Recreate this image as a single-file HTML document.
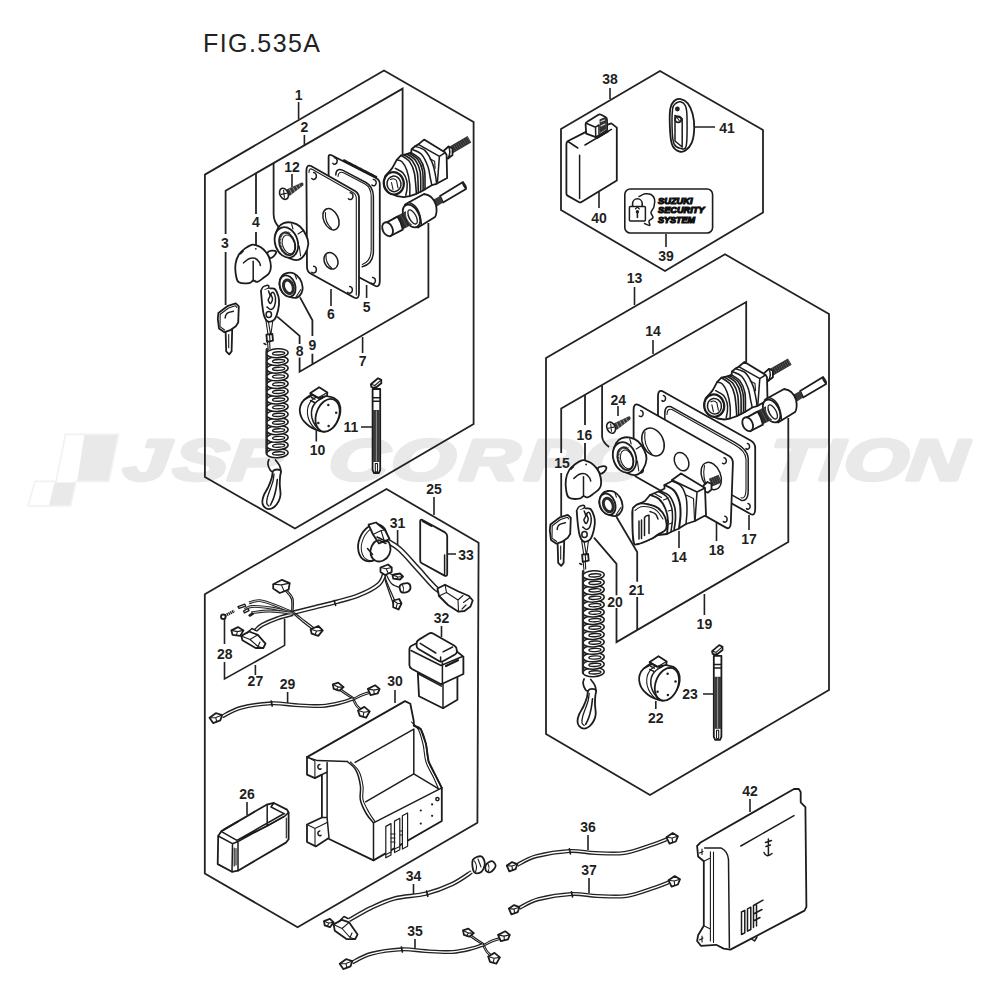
<!DOCTYPE html>
<html><head><meta charset="utf-8"><title>FIG.535A</title>
<style>
html,body{margin:0;padding:0;background:#fff;}
svg{display:block;}
text{font-family:"Liberation Sans",sans-serif;}
.l{font-weight:bold;font-size:14px;fill:#1f1f1f;text-anchor:middle;}
.b{fill:none;stroke:#222;stroke-width:1.8;stroke-linejoin:miter;}
.t{fill:none;stroke:#222;stroke-width:1.6;}
.p{fill:#fff;stroke:#1c1c1c;stroke-width:1.8;stroke-linejoin:round;stroke-linecap:round;}
.n{fill:none;stroke:#1c1c1c;stroke-width:1.5;stroke-linejoin:round;stroke-linecap:round;}
.h{fill:none;stroke:#1c1c1c;stroke-width:1.1;stroke-linejoin:round;stroke-linecap:round;}
.k{fill:#222;stroke:none;}
</style></head><body>
<svg width="1000" height="1000" viewBox="0 0 1000 1000">
<rect width="1000" height="1000" fill="#fff"/>
<!-- 00_watermark.svg -->
<g fill="#e9e9e9" stroke="#e9e9e9">
<path d="M84.4 434.4H118L108.4 481.2H77.2Z M54.4 482.6H75.4L70 505.8H49Z" stroke="none"/>
<path d="M65.5 434.4H118.5L108.8 481.4H76L70.5 506H28L35 481.4H56Z" fill="none" stroke="#f1f1f1" stroke-width="1.6" stroke-linejoin="round"/>
<g transform="translate(0 479.5) skewX(-5) scale(1.42 1)" font-size="58" font-weight="bold" font-style="italic" stroke-width="3.4" stroke-linejoin="round">
<text x="85.9 121.1 159.9" y="0">JSP</text>
<text x="230.6 274.4 322.9 368.8 409.8 453.8 492.9 540.5 576.6 593.5 638" y="0">CORPORATION</text>
</g>
</g>

<!-- 01_title.svg -->
<text x="203" y="52" font-size="25" fill="#222" textLength="117" lengthAdjust="spacing">FIG.535A</text>

<!-- 02_boxes.svg -->
<g class="b">
<!-- box 1 -->
<path d="M204.9 477V174.6L384 70.5L473.6 122V424L295 528.5Z"/>
<!-- bracket 2 -->
<path d="M225.6 234V190.8L402.6 88.6V154"/>
<path d="M225.6 252V305"/>
<path d="M256 174V214M256 232V248"/>
<path d="M273.6 163V214q0 8 6 14"/>
<!-- bracket 7 -->
<path d="M428.4 223V297L299.6 371.8V357.4M299.6 344V335.8L277.2 316.6M312.4 364V353.8M312.4 336V320.2L300 297.4"/>
<!-- lower-left box -->
<path d="M204.8 873.5V594.2L386.5 489L478.6 542.8L477.4 822.8L297.6 927.2Z"/>
<!-- top right hex -->
<path d="M561 129L660 71L763 130V212.5L665 271L561 210Z"/>
<!-- right box -->
<path d="M546 734V358L725 254.3L829 314V690L650 795Z"/>
<!-- bracket 14 -->
<path d="M561.2 453V408.5L746.2 302V362.5"/>
<path d="M561.2 473V516"/>
<path d="M585 395V425M585 443V461"/>
<path d="M602.1 385.6V436q0 6 7 11"/>
<!-- bracket 19 -->
<path d="M788.3 418V542L616.5 642.1V608M616.5 595.3V563.8L594 537.7M637.2 630.4V597.1M637.2 581.8V552.1L616.5 517"/>
</g>

<!-- 03_labels.svg -->
<g class="t">
<path d="M298.6 102V119M304.4 135V145M292 174V187M331 289V306M366.6 285V298M362.6 337V353M316.3 430.5V441.5M361 427H373"/>
<path d="M434 497V515M397.6 530V548M447 554H456M441.5 626V637M255.4 665V675M287.6 692V703M395 690V703M247 802V815M413.5 884V895M415 939V950M588 835V850M589 878V893M750 799V812"/>
<path d="M224.5 619V644M224.5 662V679L284.6 645.4V619"/>
<path d="M610 88V99M694 127H715M599 192V208M666 234V247M634.5 287V305M653 340V354M618 406V416M749 515V530M716.5 523V541M679 531V548M704.4 594V615M655.8 701V709M703 694H715"/>
</g>
<g class="l">
<text x="298.6" y="100">1</text><text x="304.4" y="132">2</text><text x="292" y="171.5">12</text>
<text x="256" y="226.5">4</text><text x="225" y="247.5">3</text><text x="331" y="319">6</text>
<text x="366.6" y="311.5">5</text><text x="312.4" y="349.5">9</text><text x="299.6" y="355.5">8</text>
<text x="362.6" y="366">7</text><text x="317.5" y="454.5">10</text><text x="351" y="432">11</text>
<text x="434" y="494">25</text><text x="397.6" y="527.5">31</text><text x="466" y="559.5">33</text>
<text x="441.5" y="622.5">32</text><text x="224.8" y="659">28</text><text x="255.4" y="686">27</text>
<text x="287.6" y="689">29</text><text x="395" y="686">30</text><text x="247" y="798.5">26</text>
<text x="413.5" y="881">34</text><text x="415" y="936">35</text><text x="588" y="832">36</text>
<text x="589" y="875">37</text><text x="750" y="796">42</text>
<text x="610" y="84">38</text><text x="727" y="132.5">41</text><text x="599" y="223">40</text>
<text x="666" y="261">39</text><text x="634.5" y="283">13</text><text x="653" y="336">14</text>
<text x="618.3" y="404.5">24</text><text x="584.4" y="439.5">16</text><text x="562" y="468">15</text>
<text x="749" y="544">17</text><text x="716.5" y="555">18</text><text x="679" y="562">14</text>
<text x="615" y="606.5">20</text><text x="636.5" y="595">21</text><text x="704.4" y="629">19</text>
<text x="655.8" y="723">22</text><text x="690" y="699">23</text>
</g>

<!-- 10_box1.svg -->
<g><path class="n" d="M451 150L469.4 139.3" style="stroke:#2e2e2e;stroke-width:7.4;stroke-linecap:butt"/><path class="n" d="M451 150L469.4 139.3" style="stroke:#777;stroke-width:6;stroke-linecap:butt;stroke-dasharray:0.45 1.8"/><path class="p" d="M443.5 151 L448.5 146.5 L452.5 148.5 L452.5 155 L448 158.5 L443.5 157Z" /><path class="n" d="M448.5 146.5Q451.5 152 448 158.5" /><path class="p" d="M383.8 183.3 L385.2 176.1 L389.5 171.3 L392.4 167.9 L396.7 159.8 L401 155.4 L406.8 154 L411.1 152.6 L411.6 149.2 L415 146.3 L418.3 144.4 L424.1 139.6 L445.2 152.6 L446.6 155 L447.1 178 L436.6 183.8 L431.8 185.2 L427.9 187.6 L423.1 190.5 L416.4 193.8 L409.7 196.2 L403.9 197.2 L397.2 196.2 L388.6 192.4 L384.7 187.6Z" /><path class="n" d="M418.3 144.4L439.4 156.4L445.2 152.6M439.4 156.4L437.5 181.8" /><path class="h" d="M429.8 158.8L434.6 161.2L435.1 168.4" /><path class="n" d="M411.6 149.2C413.2 150 418.5 151.1 421.2 154C423.9 156.9 426.4 162.5 427.9 166.5C429.4 170.5 429.6 174.9 430.3 178C431 181.1 431.6 184 431.8 185.2" /><path class="n" d="M415 146.3C416.7 147 422.1 147.9 425 150.6C427.9 153.3 430.4 158.3 432.2 162.6C434 166.8 434.9 172.6 435.6 176.1C436.3 179.6 436.4 182.5 436.6 183.8" /><path class="n" d="M401 155.4C402.4 156.4 407.4 158.6 409.6 161.6C411.8 164.6 413.3 167.8 414.4 173.2C415.5 178.6 416.1 190.4 416.4 193.8" style="stroke-width:1.6"/><path class="n" d="M403.9 154.8C405.3 155.8 410.3 158 412.5 161C414.7 164 416.3 167.3 417.3 172.6C418.3 177.9 418.1 189.5 418.3 192.9" style="stroke-width:1.6"/><path class="n" d="M406.8 154C408.2 155 413.2 157.2 415.4 160.2C417.6 163.2 419.3 166.5 420.2 171.8C421.1 177.1 420.6 188.6 420.7 191.9" style="stroke-width:1.6"/><path class="n" d="M409.2 153.3C410.6 154.3 415.6 156.5 417.8 159.5C420 162.5 421.7 165.9 422.6 171.1C423.5 176.3 423 187.3 423.1 190.5" style="stroke-width:1.6"/><path class="n" d="M411.1 152.6C412.5 153.6 417.5 155.8 419.7 158.8C421.9 161.8 423.6 165.3 424.5 170.4C425.4 175.5 424.9 186.3 425 189.5" style="stroke-width:1.6"/><path class="n" d="M396.7 159.8C397.6 160.1 400.3 159.9 402 161.7C403.7 163.4 405.5 166.6 406.8 170.3C408.1 174 409.2 179.5 409.7 183.8C410.2 188.1 409.7 194.1 409.7 196.2" /><path class="n" d="M395.3 168.4C396.6 169.2 401.1 170.9 403 173C404.9 175.1 406.1 178.2 406.8 180.9C407.5 183.6 407.2 186.6 407 189C406.8 191.4 406 194.2 405.8 195.3" /><ellipse class="p" cx="393.8" cy="183.3" rx="10" ry="11.2" transform="rotate(-10 393.8 183.3)" style="stroke-width:2.2"/><ellipse class="n" cx="394" cy="183.9" rx="7" ry="7.8" transform="rotate(-10 394 183.9)" /><path class="h" d="M390.5 179.5Q394 177.5 396.5 180.5L398 188M391.5 182.5L393 189.5" /></g>
<g><path class="p" d="M440 196 L463 182 L466 189 L443 202.5Z" /><ellipse class="k" cx="464.5" cy="185.5" rx="1.6" ry="3.8" transform="rotate(-30 464.5 185.5)" /><path class="k" d="M433.5 199.5 L440 196 L443 202.5 L437 206.5Z" style="fill:#3a3a3a"/><path class="p" d="M405 204.5L424 194Q433 195 436 205Q437.5 213 435 217L418 227.5Z" /><ellipse class="p" cx="411.5" cy="216" rx="7.5" ry="12.3" transform="rotate(-28 411.5 216)" /><path class="n" d="M408.5 202.6Q420 205 421.5 225.3" /><path class="k" d="M393 218.1 L405.6 211.3 L412.6 224.3 L399.8 230.9Z" style="fill:#2c2c2c"/><path class="h" d="M400.5 214.4L407.2 227M403.8 212.6L410.4 225.2" style="stroke:#777;stroke-width:.5"/><ellipse class="n" cx="411.2" cy="217.6" rx="3.4" ry="7.6" transform="rotate(-28 411.2 217.6)" style="stroke-width:1.5;stroke:#fff"/><ellipse class="n" cx="412.6" cy="216.9" rx="3.4" ry="7.8" transform="rotate(-28 412.6 216.9)" style="stroke-width:1.3"/><path class="p" d="M386.3 222.6L397.5 216.6Q401 222 402.8 229.6L390 236.3Z" /><ellipse class="p" cx="387.6" cy="229.2" rx="4.9" ry="7.3" transform="rotate(-25 387.6 229.2)" /></g>
<g><path class="p" d="M328.6 157Q328.6 153.8 331.6 155.2L376 178Q379.8 180 379.8 184V281Q379.8 287.5 375.5 286L332 263Q328.6 261 328.6 257Z" /><path class="n" d="M344 160.5L376 177" style="stroke-width:2.6;stroke-dasharray:1 1"/><path class="n" d="M335.8 175Q336 167.5 343 170.4L366 182.5Q373 186.5 373.4 196V252Q373 264 362.2 266.8" /><path class="h" d="M338 176.5Q338.5 170.5 344 173L365 184Q371 187.5 371.2 196.5V250Q371 261.5 362.2 264.4" /><path class="n" d="M334.4 157.8a2.6 3.2 0 1 1 -1.5 5.6" /><path class="n" d="M373.4 179.4a2.6 3.2 0 1 1 -1.5 5.6" /><path class="n" d="M372.6 277.4a2.6 3.2 0 1 1 -1.5 5.6" /><path class="p" d="M306.4 171Q306.4 164 311 166L355 191Q359 193.5 359 198V293Q359 300 354 297.5L310.5 273.5Q307 271.5 307 267Z" /><path class="h" d="M309 172.5Q309 167.5 312.5 169.5L353 192.5Q356.3 194.5 356.3 198.5V295" /><ellipse class="n" cx="331" cy="219.2" rx="7.3" ry="11.3" transform="rotate(-25 331 219.2)" /><path class="h" d="M325.5 212.5Q324.5 222 331.5 228.5" /><ellipse class="n" cx="331" cy="260.8" rx="6.6" ry="8.6" transform="rotate(-25 331 260.8)" /><path class="h" d="M326 255Q325.5 263 331.5 268" /><path class="n" d="M313.6 172.6a2.8 3.4 0 1 1 -1.8 6" /><path class="n" d="M350.2 192.8a2.8 3.4 0 1 1 -1.8 6" /><path class="n" d="M313.6 266.2a2.8 3.4 0 1 1 -1.8 6" /><path class="n" d="M349.6 286.4a2.8 3.4 0 1 1 -1.8 6" /></g>
<g><path class="k" d="M286.5 189.6L301.8 182.4Q304.2 182.6 303.2 185.6L289.5 196Z" style="fill:#383838"/><path class="h" d="M289.5 189L292 194M292.8 187.4L295.2 191.8M296 186L298 189.6M299 184.6L300.6 187.4" style="stroke:#ccc;stroke-width:.6"/><ellipse class="p" cx="284" cy="193.8" rx="4.1" ry="5.8" transform="rotate(-25 284 193.8)" style="stroke-width:1.6"/><path class="h" d="M281.3 194.4L286.7 193.2M283.6 190.2L284.4 197.4" /></g>
<g><path class="p" d="M283.6 223.2C285.9 222.3 289.3 222 292 222.6C294.7 223.2 297.7 224.4 300 226.5C302.3 228.6 304.6 232.1 306 235C307.4 237.9 308.5 240.8 308.3 244C308.1 247.2 306.6 251.4 305 254C303.4 256.6 301.5 258.9 299 259.6C296.5 260.4 293.5 260.1 290 258.5C286.5 256.9 280.5 253.4 278 250C275.5 246.6 275 241.7 275 238C275 234.3 276.6 230.5 278 228C279.4 225.5 281.3 224.1 283.6 223.2Z" /><ellipse class="p" cx="286.4" cy="242.4" rx="11.3" ry="15.6" transform="rotate(-18 286.4 242.4)" style="stroke-width:1.8"/><ellipse class="p" cx="287.2" cy="243.8" rx="7.6" ry="11.6" transform="rotate(-18 287.2 243.8)" /><ellipse class="n" cx="288.6" cy="244.4" rx="6" ry="9.6" transform="rotate(-18 288.6 244.4)" style="stroke-width:1"/><path d="M290 233.5A6.9 10.7 -18 0 0 287 255" fill="none" stroke="#333" stroke-width="2.2" stroke-dasharray="0.9 0.6"/><path class="h" d="M291.5 223.7L293 229M299.2 246L300.6 256M303.5 230.5L298 234" /></g>
<g><path class="p" d="M267.5 252.8C267.9 251.7 270.3 250.9 271.7 250.7C273.1 250.5 275.3 250.9 275.9 251.5C276.5 252.1 276.2 253 275.5 254.1C274.8 255.2 272.8 257.2 271.7 257.8C270.6 258.4 269.9 258.2 269.2 257.4C268.5 256.6 267.1 253.9 267.5 252.8Z" /><path class="p" d="M255.7 245.2C254.1 244.8 253.3 244.2 251.5 244.8C249.7 245.4 246.9 247 244.8 248.6C242.7 250.2 240.4 252 238.9 254.5C237.4 257 236.1 260.2 235.6 263.7C235.1 267.2 235.4 272.4 236 275.5C236.6 278.6 236.7 280.9 238.9 282.2C241.1 283.5 246.6 283.4 249 283.1C251.4 282.8 251.8 280.7 253.2 280.5C254.6 280.3 255.7 282.2 257.4 281.8C259.1 281.4 261.3 279.5 263.3 278C265.3 276.5 267.9 274.9 269.2 273C270.5 271.1 270.9 268.8 270.9 266.3C270.9 263.8 270 260.2 269.2 257.8C268.4 255.4 267.2 253.8 265.8 252C264.4 250.2 262.5 248.4 260.8 247.3C259.1 246.2 257.2 245.6 255.7 245.2Z" /><path class="n" d="M243.5 262.9C244.4 262.2 247.1 259.5 249 258.7C250.9 257.9 253.2 257.8 254.9 258.3C256.6 258.9 258.2 260.8 259.1 262C260 263.2 260.2 264.8 260.4 265.4" /><path class="n" d="M253.2 261.2V280.5" /><path class="n" d="M240.6 253.6L243.1 251.1" /><circle class="k" cx="255.8" cy="248.8" r="0.9"/></g>
<g><path class="p" d="M225.6 331 L226.2 351.4 L229.2 354.4 L231.6 351.4 L232.2 329Z" /><path class="h" d="M228.7 334.6V347.8" /><path class="p" d="M218.4 313 L228 305.8 L235.8 303.4 L238.8 306.4 L238.2 322.6 L235.8 326.2 L229.8 330.4 L224.4 332.2 L219 328.6 L217.8 319Z" /><path class="h" d="M220.2 314.2 L228.6 308 L235.4 305.8 L236.8 307.4" /><path class="h" d="M220.2 314.2L220 326.6L224.6 330" /><path class="n" d="M225.2 318Q225.4 313.4 229 312.4L233.4 311.2" /></g>
<g><path class="p" d="M288 272.8C290 272.4 292 272.5 294 273.5C296 274.5 298.6 276.8 300 279C301.4 281.2 302.4 284.7 302.6 287C302.9 289.3 302.4 291.2 301.5 293C300.6 294.8 298.9 296.9 297 297.6C295.1 298.3 292.3 297.8 290 297C287.7 296.2 284.8 295 283 293C281.2 291 279.7 287.8 279.5 285C279.3 282.2 280.6 278 282 276C283.4 274 286 273.2 288 272.8Z" /><ellipse class="p" cx="287.6" cy="286" rx="7.6" ry="11" transform="rotate(-20 287.6 286)" /><ellipse class="p" cx="288.4" cy="286.8" rx="4.6" ry="7" transform="rotate(-20 288.4 286.8)" style="stroke-width:3;stroke:#2a2a2a"/><path class="h" d="M295 274.5L296.5 279M300.8 289.5L296 297" /></g>
<g><path class="n" d="M261 290.8C261.3 290.2 262.1 287.9 263 287C263.9 286.1 265.4 285.6 266.4 285.4C267.4 285.2 268.5 285.5 268.8 286C269.1 286.5 268.7 287.9 268 288.6C267.3 289.4 265.1 289.3 264.5 290.5C263.9 291.7 264.4 293.8 264.6 296C264.9 298.2 265.8 302.7 266 304" /><path class="p" d="M270 288.4C270.8 288.5 273.4 287.7 274.8 289C276.2 290.3 277.7 293.6 278.4 296.2C279.1 298.8 279.3 301.4 279 304.6C278.7 307.8 277.5 312.8 276.6 315.4C275.7 318 275.1 319.2 273.6 320.2C272.1 321.2 269.2 322.2 267.6 321.4C266 320.6 264.9 318.2 264 315.4C263.1 312.6 262.7 308.7 262.2 304.6C261.7 300.5 261.2 293.1 261 290.8" /><path class="n" d="M268.5 291C268.8 291.8 270.1 294.5 270 296C269.9 297.5 268.1 298.8 268.2 300C268.3 301.2 269.8 303.7 270.5 303.5C271.2 303.3 272.4 300.6 272.5 299C272.6 297.4 270.8 295.1 271 294C271.2 292.9 272.8 291.8 273.5 292.5C274.2 293.2 275.3 295.8 275.5 298C275.7 300.2 275.2 304.1 274.5 306C273.8 307.9 272.2 309.3 271 309.5C269.8 309.7 267.7 307.4 267 307" /><ellipse class="n" cx="268.8" cy="314.6" rx="2.7" ry="3" transform="rotate(0 268.8 314.6)" /><path class="h" d="M266 320.8L268 334.5M272.8 320.5L271 334M268.4 321.5L270.5 334" /><path class="p" d="M266.4 334.6 L272.4 334 L273 340.6 L267 341.8Z" /><path class="h" d="M269.5 334.3L270 341.2" /><path class="h" d="M267.5 341.8L268.2 349.5M269.6 341.5L270 349" /><path class="n" d="M264 343.5L266 344.5" /></g>
<g><path class="n" d="M266.9 349.4V454" style="stroke-width:2.6;stroke:#2a2a2a"/><ellipse class="p" cx="277.4" cy="453.2" rx="10.7" ry="4.5" transform="rotate(-3 277.4 453.2)" style="stroke-width:1.5"/><ellipse class="p" cx="278.6" cy="453.4" rx="6.1" ry="1.6" transform="rotate(-3 278.6 453.4)" style="stroke-width:1.4"/><ellipse class="p" cx="277.4" cy="445.5" rx="10.7" ry="4.5" transform="rotate(-3 277.4 445.5)" style="stroke-width:1.5"/><ellipse class="p" cx="278.6" cy="445.7" rx="6.1" ry="1.6" transform="rotate(-3 278.6 445.7)" style="stroke-width:1.4"/><ellipse class="p" cx="277.4" cy="437.8" rx="10.7" ry="4.5" transform="rotate(-3 277.4 437.8)" style="stroke-width:1.5"/><ellipse class="p" cx="278.6" cy="438" rx="6.1" ry="1.6" transform="rotate(-3 278.6 438)" style="stroke-width:1.4"/><ellipse class="p" cx="277.4" cy="430.1" rx="10.7" ry="4.5" transform="rotate(-3 277.4 430.1)" style="stroke-width:1.5"/><ellipse class="p" cx="278.6" cy="430.3" rx="6.1" ry="1.6" transform="rotate(-3 278.6 430.3)" style="stroke-width:1.4"/><ellipse class="p" cx="277.4" cy="422.4" rx="10.7" ry="4.5" transform="rotate(-3 277.4 422.4)" style="stroke-width:1.5"/><ellipse class="p" cx="278.6" cy="422.6" rx="6.1" ry="1.6" transform="rotate(-3 278.6 422.6)" style="stroke-width:1.4"/><ellipse class="p" cx="277.4" cy="414.7" rx="10.7" ry="4.5" transform="rotate(-3 277.4 414.7)" style="stroke-width:1.5"/><ellipse class="p" cx="278.6" cy="414.9" rx="6.1" ry="1.6" transform="rotate(-3 278.6 414.9)" style="stroke-width:1.4"/><ellipse class="p" cx="277.4" cy="407" rx="10.7" ry="4.5" transform="rotate(-3 277.4 407)" style="stroke-width:1.5"/><ellipse class="p" cx="278.6" cy="407.2" rx="6.1" ry="1.6" transform="rotate(-3 278.6 407.2)" style="stroke-width:1.4"/><ellipse class="p" cx="277.4" cy="399.4" rx="10.7" ry="4.5" transform="rotate(-3 277.4 399.4)" style="stroke-width:1.5"/><ellipse class="p" cx="278.6" cy="399.6" rx="6.1" ry="1.6" transform="rotate(-3 278.6 399.6)" style="stroke-width:1.4"/><ellipse class="p" cx="277.4" cy="391.7" rx="10.7" ry="4.5" transform="rotate(-3 277.4 391.7)" style="stroke-width:1.5"/><ellipse class="p" cx="278.6" cy="391.9" rx="6.1" ry="1.6" transform="rotate(-3 278.6 391.9)" style="stroke-width:1.4"/><ellipse class="p" cx="277.4" cy="384" rx="10.7" ry="4.5" transform="rotate(-3 277.4 384)" style="stroke-width:1.5"/><ellipse class="p" cx="278.6" cy="384.2" rx="6.1" ry="1.6" transform="rotate(-3 278.6 384.2)" style="stroke-width:1.4"/><ellipse class="p" cx="277.4" cy="376.3" rx="10.7" ry="4.5" transform="rotate(-3 277.4 376.3)" style="stroke-width:1.5"/><ellipse class="p" cx="278.6" cy="376.5" rx="6.1" ry="1.6" transform="rotate(-3 278.6 376.5)" style="stroke-width:1.4"/><ellipse class="p" cx="277.4" cy="368.6" rx="10.7" ry="4.5" transform="rotate(-3 277.4 368.6)" style="stroke-width:1.5"/><ellipse class="p" cx="278.6" cy="368.8" rx="6.1" ry="1.6" transform="rotate(-3 278.6 368.8)" style="stroke-width:1.4"/><ellipse class="p" cx="277.4" cy="360.9" rx="10.7" ry="4.5" transform="rotate(-3 277.4 360.9)" style="stroke-width:1.5"/><ellipse class="p" cx="278.6" cy="361.1" rx="6.1" ry="1.6" transform="rotate(-3 278.6 361.1)" style="stroke-width:1.4"/><ellipse class="p" cx="277.4" cy="353.2" rx="10.7" ry="4.5" transform="rotate(-3 277.4 353.2)" style="stroke-width:1.5"/><ellipse class="p" cx="278.6" cy="353.4" rx="6.1" ry="1.6" transform="rotate(-3 278.6 353.4)" style="stroke-width:1.4"/><path class="n" d="M266.5 351.4V453" style="stroke-width:1.8;stroke:#2a2a2a"/></g>
<g><path class="n" d="M268.9 459.5C268.7 460.2 267.7 462.2 267.9 464C268.1 465.8 269.4 469 270.3 470.3C271.2 471.6 272.6 471.7 273 472" style="stroke-width:1.7"/><path class="n" d="M275.5 460C276.1 460.9 278.5 463.6 279.4 465.4C280.3 467.2 280.8 469.5 280.8 471C280.8 472.5 279.8 473.9 279.6 474.5" style="stroke-width:1.7"/><path class="p" d="M273.1 471C272.2 472.4 272.5 475.3 271.7 478C270.9 480.7 269.5 484.3 268.2 487.1C266.9 489.9 265 492.4 264 494.8C263 497.2 262.3 499.8 262.3 501.8C262.3 503.8 262.9 505.5 264 506.7C265.1 507.9 267.1 509.2 268.9 509.2C270.6 509.2 272.9 508 274.5 506.7C276.1 505.4 277.7 503.1 278.7 501.1C279.7 499.1 280.3 497.5 280.5 494.8C280.7 492.1 279.9 488 279.8 485C279.7 482 279.9 478.9 280.1 476.6C280.3 474.3 281.3 472.2 280.8 471C280.3 469.8 278.3 469.5 277 469.5C275.7 469.5 274 469.6 273.1 471Z" style="stroke-width:1.8"/><path class="n" d="M274 474C273.8 475.2 273.6 478.5 273 481C272.4 483.5 271.2 486.3 270.3 489C269.4 491.7 268.1 494.6 267.5 497C266.9 499.4 266.6 502 266.8 503.5C267.1 505 268.6 505.6 269 506" style="stroke-width:1.3"/><path class="n" d="M277.3 479.5C277.1 481.1 276.6 486 276 489C275.4 492 274.7 494.8 273.8 497.5C272.9 500.2 271.1 503.8 270.5 505" style="stroke-width:1.6"/></g>
<g><path class="p" d="M304.3 399.7C301.7 401.9 301.1 404 300.4 406C299.7 408 299.7 409.9 299.9 411.8C300.1 413.7 300.8 415.9 301.5 417.5C302.2 419.1 303.1 420.3 304.3 421.7C305.6 423.1 307.2 424.7 309 426C310.8 427.3 313 428.5 315.3 429.4C317.6 430.3 320.4 431.7 323 431.6C325.6 431.5 328.7 430.6 331 429C333.3 427.4 335.4 424.8 337 422C338.6 419.2 340.1 415.2 340.4 412C340.7 408.8 340.1 405.3 339 403C337.9 400.7 336.2 399.2 334 398C331.8 396.8 329 396.8 326 396C323 395.2 319.6 392.4 316 393C312.4 393.6 306.9 397.5 304.3 399.7Z" /><path class="n" d="M304.3 399.7L316 393.6" /><ellipse class="p" cx="327.6" cy="415.3" rx="11.3" ry="17" transform="rotate(20 327.6 415.3)" /><path class="n" d="M322.5 398Q309 404 312 418Q314 426 320.5 430.8" /><path class="h" d="M317 396.5Q305 403 308 417Q310 424.5 316 429.5" /><circle class="k" cx="328.3" cy="404.9" r="1.25"/><circle class="k" cx="336.2" cy="412.7" r="1.25"/><circle class="k" cx="328.6" cy="426" r="1.25"/><circle class="k" cx="318.3" cy="422.9" r="1.25"/><path class="p" d="M310.4 393 L319.2 387.3 L327.4 392.5 L326.9 395.9 L318 398 L310.4 393.7Z" /><path class="h" d="M310.4 393L318.5 397.5L327.4 392.5" /><path class="n" d="M311.5 397.5L315 399.2M319 399.5L324.5 396.8M310.5 400.5L314.5 402.5" /></g>
<g><path class="p" d="M372.6 389 L372.6 470 L374 473 L378.8 473 L380.2 470 L380.2 389Z" /><path class="k" d="M373 410 L373 462 L379.8 462 L379.8 410Z" style="fill:#3a3a3a"/><path class="h" d="M376.4 411V461" style="stroke:#bbb;stroke-width:.7"/><path class="h" d="M375.3 463.5V471.3Q376.4 472.6 377.5 471.3V463.5Z" /><path class="n" d="M372.6 397.8H380.2M372.6 401.2H380.2" /><path class="p" d="M370.9 384.3 L378 378.3 L381.3 379.9 L381.3 383.2 L375.3 388 L371.4 387Z" /><path class="h" d="M370.9 384.3L374.8 385.5L381.3 379.9M374.8 385.5L375.3 388" /></g>

<!-- 11_box13.svg -->
<g><path class="p" d="M658 396Q658 389.5 662.5 391.2L751 440.8Q755.2 443.5 755.2 448V509Q755.2 516.5 750.5 514L661.5 464Q658 462 658 458Z" /><path class="n" d="M664.8 414Q664.5 405 671.2 406.8L735.2 442.6Q747.5 449.5 748.2 458V491Q748 502 741 500.2L668 459Q664.8 457 664.8 453Z" /><path class="h" d="M667 414.5Q667 408 672 409.5L734.5 444.8Q745.5 451 746 459V490Q745.8 499 741 497.8" /><path class="n" d="M663.4 395.6a2.2 2.8 0 1 1 -1.4 5" /><path class="n" d="M747.4 443.6a2.2 2.8 0 1 1 -1.4 5" /><path class="n" d="M748 503.6a2.2 2.8 0 1 1 -1.4 5" /><path class="p" d="M633.6 410Q633.6 403 638.4 404.8L729.5 456.2Q732.9 458.5 732.9 463L730.8 523Q730.4 530 726 527.6L636.5 477Q633.6 475 633.6 470Z" /><ellipse class="n" cx="653" cy="442" rx="10.4" ry="14.6" transform="rotate(-25 653 442)" /><path class="h" d="M645 432Q643 445 652 454.5" /><ellipse class="n" cx="681.6" cy="461.6" rx="6.8" ry="9.6" transform="rotate(-25 681.6 461.6)" /><ellipse class="n" cx="711.2" cy="476" rx="9.4" ry="14.2" transform="rotate(-22 711.2 476)" /><path class="h" d="M704.5 465.5Q702 478 708 489" /><path class="n" d="M640.8 410.6a2.4 3 0 1 1 -1.5 5.4" /><path class="n" d="M724 457.8a2.4 3 0 1 1 -1.5 5.4" /><path class="n" d="M724.8 516.2a2.4 3 0 1 1 -1.5 5.4" /><path class="n" d="M641 467a2.4 3 0 1 1 -1.5 5.4" /></g>
<g transform="translate(320.4 222.3)"><path class="n" d="M451 150L469.4 139.3" style="stroke:#2e2e2e;stroke-width:7.4;stroke-linecap:butt"/><path class="n" d="M451 150L469.4 139.3" style="stroke:#777;stroke-width:6;stroke-linecap:butt;stroke-dasharray:0.45 1.8"/><path class="p" d="M443.5 151 L448.5 146.5 L452.5 148.5 L452.5 155 L448 158.5 L443.5 157Z" /><path class="n" d="M448.5 146.5Q451.5 152 448 158.5" /><path class="p" d="M383.8 183.3 L385.2 176.1 L389.5 171.3 L392.4 167.9 L396.7 159.8 L401 155.4 L406.8 154 L411.1 152.6 L411.6 149.2 L415 146.3 L418.3 144.4 L424.1 139.6 L445.2 152.6 L446.6 155 L447.1 178 L436.6 183.8 L431.8 185.2 L427.9 187.6 L423.1 190.5 L416.4 193.8 L409.7 196.2 L403.9 197.2 L397.2 196.2 L388.6 192.4 L384.7 187.6Z" /><path class="n" d="M418.3 144.4L439.4 156.4L445.2 152.6M439.4 156.4L437.5 181.8" /><path class="h" d="M429.8 158.8L434.6 161.2L435.1 168.4" /><path class="n" d="M411.6 149.2C413.2 150 418.5 151.1 421.2 154C423.9 156.9 426.4 162.5 427.9 166.5C429.4 170.5 429.6 174.9 430.3 178C431 181.1 431.6 184 431.8 185.2" /><path class="n" d="M415 146.3C416.7 147 422.1 147.9 425 150.6C427.9 153.3 430.4 158.3 432.2 162.6C434 166.8 434.9 172.6 435.6 176.1C436.3 179.6 436.4 182.5 436.6 183.8" /><path class="n" d="M401 155.4C402.4 156.4 407.4 158.6 409.6 161.6C411.8 164.6 413.3 167.8 414.4 173.2C415.5 178.6 416.1 190.4 416.4 193.8" style="stroke-width:1.6"/><path class="n" d="M403.9 154.8C405.3 155.8 410.3 158 412.5 161C414.7 164 416.3 167.3 417.3 172.6C418.3 177.9 418.1 189.5 418.3 192.9" style="stroke-width:1.6"/><path class="n" d="M406.8 154C408.2 155 413.2 157.2 415.4 160.2C417.6 163.2 419.3 166.5 420.2 171.8C421.1 177.1 420.6 188.6 420.7 191.9" style="stroke-width:1.6"/><path class="n" d="M409.2 153.3C410.6 154.3 415.6 156.5 417.8 159.5C420 162.5 421.7 165.9 422.6 171.1C423.5 176.3 423 187.3 423.1 190.5" style="stroke-width:1.6"/><path class="n" d="M411.1 152.6C412.5 153.6 417.5 155.8 419.7 158.8C421.9 161.8 423.6 165.3 424.5 170.4C425.4 175.5 424.9 186.3 425 189.5" style="stroke-width:1.6"/><path class="n" d="M396.7 159.8C397.6 160.1 400.3 159.9 402 161.7C403.7 163.4 405.5 166.6 406.8 170.3C408.1 174 409.2 179.5 409.7 183.8C410.2 188.1 409.7 194.1 409.7 196.2" /><path class="n" d="M395.3 168.4C396.6 169.2 401.1 170.9 403 173C404.9 175.1 406.1 178.2 406.8 180.9C407.5 183.6 407.2 186.6 407 189C406.8 191.4 406 194.2 405.8 195.3" /><ellipse class="p" cx="393.8" cy="183.3" rx="10" ry="11.2" transform="rotate(-10 393.8 183.3)" style="stroke-width:2.2"/><ellipse class="n" cx="394" cy="183.9" rx="7" ry="7.8" transform="rotate(-10 394 183.9)" /><path class="h" d="M390.5 179.5Q394 177.5 396.5 180.5L398 188M391.5 182.5L393 189.5" /></g>
<g transform="translate(360.1 195)"><path class="p" d="M440 196 L463 182 L466 189 L443 202.5Z" /><ellipse class="k" cx="464.5" cy="185.5" rx="1.6" ry="3.8" transform="rotate(-30 464.5 185.5)" /><path class="k" d="M433.5 199.5 L440 196 L443 202.5 L437 206.5Z" style="fill:#3a3a3a"/><path class="p" d="M405 204.5L424 194Q433 195 436 205Q437.5 213 435 217L418 227.5Z" /><ellipse class="p" cx="411.5" cy="216" rx="7.5" ry="12.3" transform="rotate(-28 411.5 216)" /><path class="n" d="M408.5 202.6Q420 205 421.5 225.3" /><path class="k" d="M393 218.1 L405.6 211.3 L412.6 224.3 L399.8 230.9Z" style="fill:#2c2c2c"/><path class="h" d="M400.5 214.4L407.2 227M403.8 212.6L410.4 225.2" style="stroke:#777;stroke-width:.5"/><ellipse class="n" cx="411.2" cy="217.6" rx="3.4" ry="7.6" transform="rotate(-28 411.2 217.6)" style="stroke-width:1.5;stroke:#fff"/><ellipse class="n" cx="412.6" cy="216.9" rx="3.4" ry="7.8" transform="rotate(-28 412.6 216.9)" style="stroke-width:1.3"/><path class="p" d="M386.3 222.6L397.5 216.6Q401 222 402.8 229.6L390 236.3Z" /><ellipse class="p" cx="387.6" cy="229.2" rx="4.9" ry="7.3" transform="rotate(-25 387.6 229.2)" /></g>
<g><path class="n" d="M710.5 482.6L720.2 478.6" style="stroke:#2e2e2e;stroke-width:8.5;stroke-linecap:butt"/><path class="n" d="M710.5 482.6L720.2 478.6" style="stroke:#777;stroke-width:7.5;stroke-linecap:butt;stroke-dasharray:0.45 1.8"/><path class="p" d="M703.5 485.5 L707.5 482 L711.5 484 L711.5 489.5 L708 492.6 L703.5 491Z" /><path class="p" d="M632.5 512 L634 507 L640 503.5 L645 501 L650 495 L658.5 491.5 L660 491 L664.5 488.5 L664.5 485 L672 481 L672 480 L681 473.5 L705 488 L706 515 L695 521 L686 524 L678 529 L673 531 L667 534 L658 535 L652 538.5 L638 544 L633.5 541Z" /><path class="n" d="M672 480L697 492L705 488M697 492L695 521" /><path class="h" d="M686 495L693.5 498.5L694.5 520" /><path class="n" d="M672 481C673.5 481.8 678.7 483.3 681 486C683.3 488.7 685 493 686 497C687 501 687 505.5 687 510C687 514.5 686.2 521.7 686 524" /><path class="n" d="M664.5 485C666.1 485.9 671.5 487.7 674 490.5C676.5 493.3 678.4 497.9 679.5 502C680.6 506.1 680.6 510.6 680.5 515C680.4 519.4 679.2 526.2 679 528.5" style="stroke-width:2"/><path class="n" d="M660 491C661.5 491.8 666.6 492.9 669 495.5C671.4 498.1 673.4 502.7 674.5 506.5C675.6 510.3 675.6 514.5 675.5 518.5C675.4 522.5 674.2 528.5 674 530.5" style="stroke-width:1.7"/><path class="n" d="M658.5 491.5C659.8 492.3 664.3 493.9 666.5 496.5C668.7 499.1 670.5 503.2 671.5 507C672.5 510.8 672.6 514.9 672.5 519C672.4 523.1 671.2 529.4 671 531.5" /><path class="n" d="M650 495C651.5 495.7 656.4 496.7 659 499C661.6 501.3 664 505.3 665.5 509C667 512.7 667.8 516.8 668 521C668.2 525.2 667.2 531.8 667 534" style="stroke-width:1.8"/><path class="h" d="M654 493.3L661.5 497.5M663.5 500L668.5 498M668 511L672.3 510M669 524L672.5 523" /><path class="p" d="M632.5 512C632.6 506.3 632.8 508.4 634 507C635.2 505.6 637.5 503.9 640 503.5C642.5 503.1 646 503.8 649 504.5C652 505.2 655.3 505.9 658 508C660.7 510.1 663.7 513.5 665 517C666.3 520.5 667.2 526.1 666 529C664.8 531.9 660.3 532.9 658 534.5C655.7 536.1 655.3 536.9 652 538.5C648.7 540.1 641.1 543.6 638 544C634.9 544.4 634.4 546.3 633.5 541C632.6 535.7 632.4 517.7 632.5 512Z" style="stroke-width:1.9"/><path class="h" d="M635 510.5C636 509.9 638.5 507.3 641 506.8C643.5 506.3 647.3 506.6 650 507.3C652.7 508 654.8 508.9 657 510.8C659.2 512.8 662 517.6 663 519" /><path class="n" d="M639 521V539M641.5 520V538.5M644.5 517.5V535.5M649 515.2V533.5M644.5 517.5Q646.5 514.8 649 515.2" /><path class="n" d="M650 511.5C650.9 511.9 654.2 512.8 655.5 514C656.8 515.2 657.6 518.2 658 519" /></g>
<g transform="translate(327.1 233.9)"><path class="k" d="M286.5 189.6L301.8 182.4Q304.2 182.6 303.2 185.6L289.5 196Z" style="fill:#383838"/><path class="h" d="M289.5 189L292 194M292.8 187.4L295.2 191.8M296 186L298 189.6M299 184.6L300.6 187.4" style="stroke:#ccc;stroke-width:.6"/><ellipse class="p" cx="284" cy="193.8" rx="4.1" ry="5.8" transform="rotate(-25 284 193.8)" style="stroke-width:1.6"/><path class="h" d="M281.3 194.4L286.7 193.2M283.6 190.2L284.4 197.4" /></g>
<g transform="translate(338.2 215)"><path class="p" d="M283.6 223.2C285.9 222.3 289.3 222 292 222.6C294.7 223.2 297.7 224.4 300 226.5C302.3 228.6 304.6 232.1 306 235C307.4 237.9 308.5 240.8 308.3 244C308.1 247.2 306.6 251.4 305 254C303.4 256.6 301.5 258.9 299 259.6C296.5 260.4 293.5 260.1 290 258.5C286.5 256.9 280.5 253.4 278 250C275.5 246.6 275 241.7 275 238C275 234.3 276.6 230.5 278 228C279.4 225.5 281.3 224.1 283.6 223.2Z" /><ellipse class="p" cx="286.4" cy="242.4" rx="11.3" ry="15.6" transform="rotate(-18 286.4 242.4)" style="stroke-width:1.8"/><ellipse class="p" cx="287.2" cy="243.8" rx="7.6" ry="11.6" transform="rotate(-18 287.2 243.8)" /><ellipse class="n" cx="288.6" cy="244.4" rx="6" ry="9.6" transform="rotate(-18 288.6 244.4)" style="stroke-width:1"/><path d="M290 233.5A6.9 10.7 -18 0 0 287 255" fill="none" stroke="#333" stroke-width="2.2" stroke-dasharray="0.9 0.6"/><path class="h" d="M291.5 223.7L293 229M299.2 246L300.6 256M303.5 230.5L298 234" /></g>
<g transform="translate(330.3 215.6)"><path class="p" d="M267.5 252.8C267.9 251.7 270.3 250.9 271.7 250.7C273.1 250.5 275.3 250.9 275.9 251.5C276.5 252.1 276.2 253 275.5 254.1C274.8 255.2 272.8 257.2 271.7 257.8C270.6 258.4 269.9 258.2 269.2 257.4C268.5 256.6 267.1 253.9 267.5 252.8Z" /><path class="p" d="M255.7 245.2C254.1 244.8 253.3 244.2 251.5 244.8C249.7 245.4 246.9 247 244.8 248.6C242.7 250.2 240.4 252 238.9 254.5C237.4 257 236.1 260.2 235.6 263.7C235.1 267.2 235.4 272.4 236 275.5C236.6 278.6 236.7 280.9 238.9 282.2C241.1 283.5 246.6 283.4 249 283.1C251.4 282.8 251.8 280.7 253.2 280.5C254.6 280.3 255.7 282.2 257.4 281.8C259.1 281.4 261.3 279.5 263.3 278C265.3 276.5 267.9 274.9 269.2 273C270.5 271.1 270.9 268.8 270.9 266.3C270.9 263.8 270 260.2 269.2 257.8C268.4 255.4 267.2 253.8 265.8 252C264.4 250.2 262.5 248.4 260.8 247.3C259.1 246.2 257.2 245.6 255.7 245.2Z" /><path class="n" d="M243.5 262.9C244.4 262.2 247.1 259.5 249 258.7C250.9 257.9 253.2 257.8 254.9 258.3C256.6 258.9 258.2 260.8 259.1 262C260 263.2 260.2 264.8 260.4 265.4" /><path class="n" d="M253.2 261.2V280.5" /><path class="n" d="M240.6 253.6L243.1 251.1" /><circle class="k" cx="255.8" cy="248.8" r="0.9"/></g>
<g transform="translate(332 211.5)"><path class="p" d="M225.6 331 L226.2 351.4 L229.2 354.4 L231.6 351.4 L232.2 329Z" /><path class="h" d="M228.7 334.6V347.8" /><path class="p" d="M218.4 313 L228 305.8 L235.8 303.4 L238.8 306.4 L238.2 322.6 L235.8 326.2 L229.8 330.4 L224.4 332.2 L219 328.6 L217.8 319Z" /><path class="h" d="M220.2 314.2 L228.6 308 L235.4 305.8 L236.8 307.4" /><path class="h" d="M220.2 314.2L220 326.6L224.6 330" /><path class="n" d="M225.2 318Q225.4 313.4 229 312.4L233.4 311.2" /></g>
<g transform="translate(319.9 218.2)"><path class="p" d="M288 272.8C290 272.4 292 272.5 294 273.5C296 274.5 298.6 276.8 300 279C301.4 281.2 302.4 284.7 302.6 287C302.9 289.3 302.4 291.2 301.5 293C300.6 294.8 298.9 296.9 297 297.6C295.1 298.3 292.3 297.8 290 297C287.7 296.2 284.8 295 283 293C281.2 291 279.7 287.8 279.5 285C279.3 282.2 280.6 278 282 276C283.4 274 286 273.2 288 272.8Z" /><ellipse class="p" cx="287.6" cy="286" rx="7.6" ry="11" transform="rotate(-20 287.6 286)" /><ellipse class="p" cx="288.4" cy="286.8" rx="4.6" ry="7" transform="rotate(-20 288.4 286.8)" style="stroke-width:3;stroke:#2a2a2a"/><path class="h" d="M295 274.5L296.5 279M300.8 289.5L296 297" /></g>
<g transform="translate(315.7 220)"><path class="n" d="M261 290.8C261.3 290.2 262.1 287.9 263 287C263.9 286.1 265.4 285.6 266.4 285.4C267.4 285.2 268.5 285.5 268.8 286C269.1 286.5 268.7 287.9 268 288.6C267.3 289.4 265.1 289.3 264.5 290.5C263.9 291.7 264.4 293.8 264.6 296C264.9 298.2 265.8 302.7 266 304" /><path class="p" d="M270 288.4C270.8 288.5 273.4 287.7 274.8 289C276.2 290.3 277.7 293.6 278.4 296.2C279.1 298.8 279.3 301.4 279 304.6C278.7 307.8 277.5 312.8 276.6 315.4C275.7 318 275.1 319.2 273.6 320.2C272.1 321.2 269.2 322.2 267.6 321.4C266 320.6 264.9 318.2 264 315.4C263.1 312.6 262.7 308.7 262.2 304.6C261.7 300.5 261.2 293.1 261 290.8" /><path class="n" d="M268.5 291C268.8 291.8 270.1 294.5 270 296C269.9 297.5 268.1 298.8 268.2 300C268.3 301.2 269.8 303.7 270.5 303.5C271.2 303.3 272.4 300.6 272.5 299C272.6 297.4 270.8 295.1 271 294C271.2 292.9 272.8 291.8 273.5 292.5C274.2 293.2 275.3 295.8 275.5 298C275.7 300.2 275.2 304.1 274.5 306C273.8 307.9 272.2 309.3 271 309.5C269.8 309.7 267.7 307.4 267 307" /><ellipse class="n" cx="268.8" cy="314.6" rx="2.7" ry="3" transform="rotate(0 268.8 314.6)" /><path class="h" d="M266 320.8L268 334.5M272.8 320.5L271 334M268.4 321.5L270.5 334" /><path class="p" d="M266.4 334.6 L272.4 334 L273 340.6 L267 341.8Z" /><path class="h" d="M269.5 334.3L270 341.2" /><path class="h" d="M267.5 341.8L268.2 349.5M269.6 341.5L270 349" /><path class="n" d="M264 343.5L266 344.5" /></g>
<g><path class="n" d="M583.2 571.4V673" style="stroke-width:2.6;stroke:#2a2a2a"/><ellipse class="p" cx="593.6" cy="672.2" rx="10.6" ry="4.5" transform="rotate(-3 593.6 672.2)" style="stroke-width:1.5"/><ellipse class="p" cx="594.9" cy="672.4" rx="6" ry="1.6" transform="rotate(-3 594.9 672.4)" style="stroke-width:1.4"/><ellipse class="p" cx="593.6" cy="664.7" rx="10.6" ry="4.5" transform="rotate(-3 593.6 664.7)" style="stroke-width:1.5"/><ellipse class="p" cx="594.9" cy="664.9" rx="6" ry="1.6" transform="rotate(-3 594.9 664.9)" style="stroke-width:1.4"/><ellipse class="p" cx="593.6" cy="657.3" rx="10.6" ry="4.5" transform="rotate(-3 593.6 657.3)" style="stroke-width:1.5"/><ellipse class="p" cx="594.9" cy="657.5" rx="6" ry="1.6" transform="rotate(-3 594.9 657.5)" style="stroke-width:1.4"/><ellipse class="p" cx="593.6" cy="649.8" rx="10.6" ry="4.5" transform="rotate(-3 593.6 649.8)" style="stroke-width:1.5"/><ellipse class="p" cx="594.9" cy="650" rx="6" ry="1.6" transform="rotate(-3 594.9 650)" style="stroke-width:1.4"/><ellipse class="p" cx="593.6" cy="642.4" rx="10.6" ry="4.5" transform="rotate(-3 593.6 642.4)" style="stroke-width:1.5"/><ellipse class="p" cx="594.9" cy="642.6" rx="6" ry="1.6" transform="rotate(-3 594.9 642.6)" style="stroke-width:1.4"/><ellipse class="p" cx="593.6" cy="634.9" rx="10.6" ry="4.5" transform="rotate(-3 593.6 634.9)" style="stroke-width:1.5"/><ellipse class="p" cx="594.9" cy="635.1" rx="6" ry="1.6" transform="rotate(-3 594.9 635.1)" style="stroke-width:1.4"/><ellipse class="p" cx="593.6" cy="627.4" rx="10.6" ry="4.5" transform="rotate(-3 593.6 627.4)" style="stroke-width:1.5"/><ellipse class="p" cx="594.9" cy="627.6" rx="6" ry="1.6" transform="rotate(-3 594.9 627.6)" style="stroke-width:1.4"/><ellipse class="p" cx="593.6" cy="620" rx="10.6" ry="4.5" transform="rotate(-3 593.6 620)" style="stroke-width:1.5"/><ellipse class="p" cx="594.9" cy="620.2" rx="6" ry="1.6" transform="rotate(-3 594.9 620.2)" style="stroke-width:1.4"/><ellipse class="p" cx="593.6" cy="612.5" rx="10.6" ry="4.5" transform="rotate(-3 593.6 612.5)" style="stroke-width:1.5"/><ellipse class="p" cx="594.9" cy="612.7" rx="6" ry="1.6" transform="rotate(-3 594.9 612.7)" style="stroke-width:1.4"/><ellipse class="p" cx="593.6" cy="605" rx="10.6" ry="4.5" transform="rotate(-3 593.6 605)" style="stroke-width:1.5"/><ellipse class="p" cx="594.9" cy="605.2" rx="6" ry="1.6" transform="rotate(-3 594.9 605.2)" style="stroke-width:1.4"/><ellipse class="p" cx="593.6" cy="597.6" rx="10.6" ry="4.5" transform="rotate(-3 593.6 597.6)" style="stroke-width:1.5"/><ellipse class="p" cx="594.9" cy="597.8" rx="6" ry="1.6" transform="rotate(-3 594.9 597.8)" style="stroke-width:1.4"/><ellipse class="p" cx="593.6" cy="590.1" rx="10.6" ry="4.5" transform="rotate(-3 593.6 590.1)" style="stroke-width:1.5"/><ellipse class="p" cx="594.9" cy="590.3" rx="6" ry="1.6" transform="rotate(-3 594.9 590.3)" style="stroke-width:1.4"/><ellipse class="p" cx="593.6" cy="582.7" rx="10.6" ry="4.5" transform="rotate(-3 593.6 582.7)" style="stroke-width:1.5"/><ellipse class="p" cx="594.9" cy="582.9" rx="6" ry="1.6" transform="rotate(-3 594.9 582.9)" style="stroke-width:1.4"/><ellipse class="p" cx="593.6" cy="575.2" rx="10.6" ry="4.5" transform="rotate(-3 593.6 575.2)" style="stroke-width:1.5"/><ellipse class="p" cx="594.9" cy="575.4" rx="6" ry="1.6" transform="rotate(-3 594.9 575.4)" style="stroke-width:1.4"/><path class="n" d="M582.8 573.4V672" style="stroke-width:1.8;stroke:#2a2a2a"/></g>
<g transform="translate(315.2 219.4)"><path class="n" d="M268.9 459.5C268.7 460.2 267.7 462.2 267.9 464C268.1 465.8 269.4 469 270.3 470.3C271.2 471.6 272.6 471.7 273 472" style="stroke-width:1.7"/><path class="n" d="M275.5 460C276.1 460.9 278.5 463.6 279.4 465.4C280.3 467.2 280.8 469.5 280.8 471C280.8 472.5 279.8 473.9 279.6 474.5" style="stroke-width:1.7"/><path class="p" d="M273.1 471C272.2 472.4 272.5 475.3 271.7 478C270.9 480.7 269.5 484.3 268.2 487.1C266.9 489.9 265 492.4 264 494.8C263 497.2 262.3 499.8 262.3 501.8C262.3 503.8 262.9 505.5 264 506.7C265.1 507.9 267.1 509.2 268.9 509.2C270.6 509.2 272.9 508 274.5 506.7C276.1 505.4 277.7 503.1 278.7 501.1C279.7 499.1 280.3 497.5 280.5 494.8C280.7 492.1 279.9 488 279.8 485C279.7 482 279.9 478.9 280.1 476.6C280.3 474.3 281.3 472.2 280.8 471C280.3 469.8 278.3 469.5 277 469.5C275.7 469.5 274 469.6 273.1 471Z" style="stroke-width:1.8"/><path class="n" d="M274 474C273.8 475.2 273.6 478.5 273 481C272.4 483.5 271.2 486.3 270.3 489C269.4 491.7 268.1 494.6 267.5 497C266.9 499.4 266.6 502 266.8 503.5C267.1 505 268.6 505.6 269 506" style="stroke-width:1.3"/><path class="n" d="M277.3 479.5C277.1 481.1 276.6 486 276 489C275.4 492 274.7 494.8 273.8 497.5C272.9 500.2 271.1 503.8 270.5 505" style="stroke-width:1.6"/></g>
<g transform="translate(339.3 268.9)"><path class="p" d="M304.3 399.7C301.7 401.9 301.1 404 300.4 406C299.7 408 299.7 409.9 299.9 411.8C300.1 413.7 300.8 415.9 301.5 417.5C302.2 419.1 303.1 420.3 304.3 421.7C305.6 423.1 307.2 424.7 309 426C310.8 427.3 313 428.5 315.3 429.4C317.6 430.3 320.4 431.7 323 431.6C325.6 431.5 328.7 430.6 331 429C333.3 427.4 335.4 424.8 337 422C338.6 419.2 340.1 415.2 340.4 412C340.7 408.8 340.1 405.3 339 403C337.9 400.7 336.2 399.2 334 398C331.8 396.8 329 396.8 326 396C323 395.2 319.6 392.4 316 393C312.4 393.6 306.9 397.5 304.3 399.7Z" /><path class="n" d="M304.3 399.7L316 393.6" /><ellipse class="p" cx="327.6" cy="415.3" rx="11.3" ry="17" transform="rotate(20 327.6 415.3)" /><path class="n" d="M322.5 398Q309 404 312 418Q314 426 320.5 430.8" /><path class="h" d="M317 396.5Q305 403 308 417Q310 424.5 316 429.5" /><circle class="k" cx="328.3" cy="404.9" r="1.25"/><circle class="k" cx="336.2" cy="412.7" r="1.25"/><circle class="k" cx="328.6" cy="426" r="1.25"/><circle class="k" cx="318.3" cy="422.9" r="1.25"/><path class="p" d="M310.4 393 L319.2 387.3 L327.4 392.5 L326.9 395.9 L318 398 L310.4 393.7Z" /><path class="h" d="M310.4 393L318.5 397.5L327.4 392.5" /><path class="n" d="M311.5 397.5L315 399.2M319 399.5L324.5 396.8M310.5 400.5L314.5 402.5" /></g>
<g transform="translate(341.2 266.8)"><path class="p" d="M372.6 389 L372.6 470 L374 473 L378.8 473 L380.2 470 L380.2 389Z" /><path class="k" d="M373 410 L373 462 L379.8 462 L379.8 410Z" style="fill:#3a3a3a"/><path class="h" d="M376.4 411V461" style="stroke:#bbb;stroke-width:.7"/><path class="h" d="M375.3 463.5V471.3Q376.4 472.6 377.5 471.3V463.5Z" /><path class="n" d="M372.6 397.8H380.2M372.6 401.2H380.2" /><path class="p" d="M370.9 384.3 L378 378.3 L381.3 379.9 L381.3 383.2 L375.3 388 L371.4 387Z" /><path class="h" d="M370.9 384.3L374.8 385.5L381.3 379.9M374.8 385.5L375.3 388" /></g>

<!-- 12_rest.svg -->
<g><path d="M386.5 540.5C388.8 542 394.8 544.8 400 549.5C405.2 554.2 412 562.5 418 569C424 575.5 431.5 584.5 436 588.5C440.5 592.5 443.5 592.2 445 593" fill="none" stroke="#222" stroke-width="5.6" stroke-linecap="butt"/><path d="M386.5 540.5C388.8 542 394.8 544.8 400 549.5C405.2 554.2 412 562.5 418 569C424 575.5 431.5 584.5 436 588.5C440.5 592.5 443.5 592.2 445 593" fill="none" stroke="#fff" stroke-width="2.6" stroke-linecap="butt"/><ellipse class="p" cx="372.6" cy="542.7" rx="13.6" ry="19.3" transform="rotate(22 372.6 542.7)" /><ellipse class="n" cx="374.2" cy="543.6" rx="12" ry="17.6" transform="rotate(22 374.2 543.6)" style="stroke-width:1"/><path class="p" d="M370.5 543L377 536L391 547L388 558L376 561.5Z" style="stroke:none"/><ellipse class="p" cx="380.5" cy="550.2" rx="9.7" ry="11.6" transform="rotate(25 380.5 550.2)" /><path class="n" d="M367.5 548.5L372.5 554.5M381 538.5L375 534" /><path class="p" d="M368.5 524.7 L376 522.5 L385 530 L389.5 539 L379 543.5 L373 534.5Z" /><path class="h" d="M373 534.5L381 530.5L385 530M381 530.5L384 540" /><path class="n" d="M377 537L386.5 541.5M378.5 540L386 543.5" /><path class="p" d="M437.5 588.5 L445 584.7 L458.5 591.5 L469 596 L472.7 600.5 L470.5 606.5 L464.5 611 L458.5 611.7 L448 605 L439 596Z" /><path class="h" d="M445 584.7L446.5 592.5L439 596M446.5 592.5L458 600L458.5 611.7M458 600L463 595.5M463.5 602.5L469.5 598M462 609L466 605" /></g>
<g><path class="p" d="M420.2 521.2Q420.2 519.2 422 519.8L445 532.4Q447.2 533.8 447.2 536V574Q447.2 576.5 444.5 575.6L421.5 563Q420.2 562.2 420.2 560.5Z" /><path class="n" d="M444.6 555V574.5" /><path class="n" d="M422.5 521L431.5 526" style="stroke-width:2;stroke-dasharray:.8 .8"/></g>
<g><path class="n" d="M384.5 572C384.8 573.3 384.9 576.7 386 580C387.1 583.3 389.5 588.5 391 592C392.5 595.5 394.3 599.5 395 601" style="stroke-width:1.2"/><path class="n" d="M385.5 573C386.6 574.8 389.2 581.5 392 584C394.8 586.5 400.3 587.3 402 588" style="stroke-width:1.2"/><path class="n" d="M386 571C387 571.6 390 574.1 392 574.5C394 574.9 397 573.7 398 573.5" style="stroke-width:1.2"/><path class="n" d="M383 573C383.7 575.2 385.3 581 387 586C388.7 591 392 600.2 393 603" style="stroke-width:1.2"/><path d="M293 612.8C296.7 611.9 307.7 609.1 315 607.3C322.3 605.5 329.7 603.8 337 601.8C344.3 599.8 352 598.1 359 595.2C366 592.3 374.6 587.9 378.8 584.2C383.1 580.5 383.6 575 384.5 573.2" fill="none" stroke="#222" stroke-width="4.6" stroke-linecap="butt"/><path d="M293 612.8C296.7 611.9 307.7 609.1 315 607.3C322.3 605.5 329.7 603.8 337 601.8C344.3 599.8 352 598.1 359 595.2C366 592.3 374.6 587.9 378.8 584.2C383.1 580.5 383.6 575 384.5 573.2" fill="none" stroke="#fff" stroke-width="1.8" stroke-linecap="butt"/><path class="n" d="M334.2 600.5L335.6 605.4" style="stroke-width:1.6"/><path d="M293 613.9C290.4 614.6 282.7 616.5 277.6 618.3C272.5 620.1 265.9 622.9 262.2 624.9C258.5 626.9 256.7 629.5 255.6 630.4" fill="none" stroke="#222" stroke-width="4.2" stroke-linecap="butt"/><path d="M293 613.9C290.4 614.6 282.7 616.5 277.6 618.3C272.5 620.1 265.9 622.9 262.2 624.9C258.5 626.9 256.7 629.5 255.6 630.4" fill="none" stroke="#fff" stroke-width="1.4" stroke-linecap="butt"/><path class="n" d="M287.5 590.8C288.4 592.1 292.1 594.8 293 598.5C293.9 602.2 293 610.4 293 612.8" style="stroke-width:1.2"/><path class="n" d="M285.8 591.5C286.7 592.8 290.4 595.5 291.4 599C292.4 602.5 291.6 610.5 291.6 612.8" style="stroke-width:1.2"/><path class="p" d="M273.2 584.2 L282 579.8 L289.7 583.1 L288.6 589.7 L279.8 593 L273.2 588.6Z" /><path class="h" d="M273.2 584.2L281.4 584.9L289.7 583.1M281.4 584.9L284.2 591.4" /><path d="M293 612.8C290.4 611.7 283.1 608.2 277.6 606.2C272.1 604.2 264.8 601.2 260 600.7C255.2 600.2 250.8 602.5 249 602.9" fill="none" stroke="#222" stroke-width="2.8" stroke-linecap="butt"/><path d="M293 612.8C290.4 611.7 283.1 608.2 277.6 606.2C272.1 604.2 264.8 601.2 260 600.7C255.2 600.2 250.8 602.5 249 602.9" fill="none" stroke="#fff" stroke-width="0.8" stroke-linecap="butt"/><path d="M293 613C289.3 612.2 277.8 609.1 271 608C264.2 606.9 256.4 606.2 252 606.5C247.6 606.8 245.8 609 244.6 609.5" fill="none" stroke="#222" stroke-width="2.8" stroke-linecap="butt"/><path d="M293 613C289.3 612.2 277.8 609.1 271 608C264.2 606.9 256.4 606.2 252 606.5C247.6 606.8 245.8 609 244.6 609.5" fill="none" stroke="#fff" stroke-width="0.8" stroke-linecap="butt"/><path d="M293 613.4C289.2 613 277 611.1 270 611C263 610.9 254.3 612.5 251.2 612.8" fill="none" stroke="#222" stroke-width="2.8" stroke-linecap="butt"/><path d="M293 613.4C289.2 613 277 611.1 270 611C263 610.9 254.3 612.5 251.2 612.8" fill="none" stroke="#fff" stroke-width="0.8" stroke-linecap="butt"/><path class="p" d="M238 606.6 L244.7 604.1 L245.7 606.2 L239 608.4Z" style="stroke-width:1.4"/><path class="p" d="M243.5 611 L248 608.5 L249 610.6 L244.5 612.8Z" style="stroke-width:1.4"/><path class="p" d="M249 615.4 L252.4 612.9 L253.4 613.9 L250 616.1Z" style="stroke-width:1.4"/><path class="n" d="M225 615.6L234.4 611" style="stroke-width:3;stroke:#2a2a2a;stroke-dasharray:1.4 .6;stroke-linecap:butt"/><circle class="p" cx="223.3" cy="616.8" r="2.3"/><path class="n" d="M293 613.4C294.7 614.8 299.8 619.4 303 622C306.2 624.6 310.5 627.8 312 629" style="stroke-width:1.2"/><path class="n" d="M294.5 612.8C296.2 614.2 301.8 618.5 305 621C308.2 623.5 312.1 626.4 313.5 627.5" style="stroke-width:1.2"/><path class="p" d="M310.6 629.3 L318.3 626 L322.7 630.4 L318.3 635.9 L311.7 633.7Z" /><path class="h" d="M310.6 629.3L316.6 631L322.7 630.4M316.6 631L315 634.8" /><path class="p" d="M231.4 630.4 L238 627.1 L243.5 630.4 L240.2 635.9 L232.5 634.8Z" /><path class="h" d="M231.4 630.4L237.4 631.6L243.5 630.4M237.4 631.6L236.3 635.3" /><path class="p" d="M241.3 635.9 L249 631.5 L257.8 634.8 L265.5 643.6 L263.3 648 L255.6 648 L242.4 640.3Z" /><path class="h" d="M241.3 635.9L250 639.5L257.8 634.8M250 639.5L258 646.5L263.3 648M258 646.5L260 642" /><path class="n" d="M247 633L252 628.5L256 630.5" /><path class="p" d="M380.5 567.5 L388 564.5 L391.7 567.5 L391.7 572 L385 575 L380.5 572Z" /><path class="h" d="M380.5 567.5L386.1 568.7L391.7 567.5M386.1 568.7L388.4 573.5" /><path class="p" d="M392.5 575 L400 573.5 L403 576.5 L400 579.5 L393.2 578.7Z" /><path class="h" d="M392.5 575L397.8 577L403 576.5M397.8 577L396.6 579.1" /><path class="p" d="M400 585.5C401 584 405.8 583 407.5 583.2C409.2 583.5 410.4 585.6 410.5 587C410.6 588.4 409.7 590.6 408.2 591.5C406.7 592.4 402.9 593.2 401.5 592.2C400.1 591.2 399 587 400 585.5Z" /><path class="h" d="M402.5 585Q404.5 588.5 403 592" /><path class="p" d="M393.2 600.5 L399.2 599 L401.5 603.5 L398.5 609.5 L393.2 607.2Z" /><path class="h" d="M393.2 600.5L397.4 603.2L401.5 603.5M397.4 603.2L395.9 608.4" /></g>
<g><path class="n" d="M338 689C339.2 689.8 342.6 692.4 345 694C347.4 695.6 351.3 698 352.6 698.8" style="stroke-width:1.1"/><path class="n" d="M339.5 688C340.7 688.8 344.1 691.4 346.5 693C348.9 694.6 352.4 697 353.6 697.8" style="stroke-width:1.1"/><path class="n" d="M352.6 698.8C354.2 698 359.1 695.2 362 694C364.9 692.8 368.7 691.9 370 691.5" style="stroke-width:1.1"/><path class="n" d="M353 700.3C354.6 699.5 359.6 697 362.5 695.8C365.4 694.6 369.2 693.6 370.5 693.2" style="stroke-width:1.1"/><path class="n" d="M352.6 699.8C353.2 700.8 354.6 704.1 356 706C357.4 707.9 360.2 710.2 361 711" style="stroke-width:1.1"/><path class="n" d="M354.2 699.5C354.8 700.5 356.2 703.8 357.6 705.5C359 707.2 361.7 709.2 362.5 710" style="stroke-width:1.1"/><path d="M222.1 716.5C225.2 715 232.8 710 241 707.8C249.2 705.6 262.6 703.8 271.6 703.3C280.6 702.8 286.6 704.6 295 705.1C303.4 705.6 314.2 706.5 322 706C329.8 705.5 336.7 703.6 341.8 702.4C346.9 701.2 350.8 699.4 352.6 698.8" fill="none" stroke="#222" stroke-width="4" stroke-linecap="butt"/><path d="M222.1 716.5C225.2 715 232.8 710 241 707.8C249.2 705.6 262.6 703.8 271.6 703.3C280.6 702.8 286.6 704.6 295 705.1C303.4 705.6 314.2 706.5 322 706C329.8 705.5 336.7 703.6 341.8 702.4C346.9 701.2 350.8 699.4 352.6 698.8" fill="none" stroke="#fff" stroke-width="1.3" stroke-linecap="butt"/><path class="n" d="M271.2 701L272.2 706" style="stroke-width:1.7"/><path class="p" d="M209.5 717.7 L215.8 713.2 L222.1 715 L220.3 720.4 L213.1 723.1Z" /><path class="h" d="M209.5 717.7L215.8 717.6L222.1 715M215.8 717.6L216.7 721.8" /><path class="p" d="M332.8 684.4 L338.2 682.6 L343.6 687.1 L339.1 690.7 L333.7 688.9Z" /><path class="h" d="M332.8 684.4L338.2 687L343.6 687.1M338.2 687L336.4 689.8" /><path class="p" d="M367.9 688.9 L375.1 685.3 L379.6 688.9 L377.8 693.4 L370.6 695.2Z" /><path class="h" d="M367.9 688.9L373.8 690.1L379.6 688.9M373.8 690.1L374.2 694.3" /><path class="p" d="M358 710.5 L364.3 706.9 L369.7 711.4 L366.1 717.7 L359.8 715.9Z" /><path class="h" d="M358 710.5L363.9 712.2L369.7 711.4M363.9 712.2L363 716.8" /></g>
<g><path class="p" d="M417.8 672 L419 696.2 L443 708.2 L457.4 699.8 L457.4 676Z" /><path class="n" d="M443 684V708.2" /><path class="p" d="M409.4 649.5Q409.4 646.5 412 645.5L417 643L456.2 651L463.4 656.6V674L441.2 684.2L412 669Q409.4 667.5 409.4 665Z" /><path class="n" d="M442.4 663V684M417.8 673.5L441.5 686.2" /><path class="n" d="M411 650.5L441 665.5L462.5 656.5" /><path class="n" d="M446 666L458.5 660" style="stroke-width:2.2;stroke-dasharray:.7 .7"/><path class="p" d="M416.6 643.5Q416.6 641 419 639.6L429 633.6Q431 632.4 433 633.5L454.5 645.8Q456.8 647.2 456.8 650V652Q456.8 653.5 455 654.5L443 661.3Q441.2 662.3 439.4 661.2L418.5 649Q416.6 647.8 416.6 646Z" /><path class="n" d="M420.2 643.4L435.8 653M443 651.8L452.6 647M440.6 657V661.5" /></g>
<g><path class="p" d="M307 757.1 L405 701.1 L410.3 703.8 L413.8 721.3 L413.8 725.6 L420.8 729.1 L426 744 L428.6 761.5 L436.5 777.3 L441.8 787.8 L441.8 821 L373.5 860.4 L328 838.5 L315.8 846.4 L307 842 L307 824.5 L321.9 817.5 L321.9 774.6 L314.9 778.1 L307 774.6Z" /><path class="n" d="M413.8 725.6C415 726.2 418.8 726 420.8 729.1C422.8 732.2 424.7 738.6 426 744C427.3 749.4 426.9 756 428.6 761.5C430.4 767 434.3 772.9 436.5 777.3C438.7 781.7 440.9 786 441.8 787.8" /><path class="h" d="M411.5 722C412.7 723.3 416.6 726 418.5 729.8C420.4 733.6 421.9 739.6 423.2 745C424.4 750.4 424.2 756.5 426 762C427.8 767.5 431.8 773.6 433.8 778C435.9 782.4 437.6 786.8 438.3 788.6" /><path class="n" d="M307 757.1L317.5 760.6L347.3 761.5" /><path class="n" d="M347.3 761.5C348.8 763 353.8 766.2 356 770.3C358.2 774.4 359.7 781 360.4 786C361.1 791 359.4 795.3 360.4 800C361.4 804.7 364.3 810.2 366.5 814C368.7 817.8 372.3 821.3 373.5 822.8" /><path class="h" d="M350.5 762C351.9 763.5 356.7 767 358.8 771C360.9 775 362.3 781.2 363 786C363.7 790.8 362 795.1 363 799.5C364 803.9 367 808.8 369 812.5C371 816.2 374 820 375 821.5" /><path class="n" d="M355.1 762.4L413.8 729.1V773.8L365.6 801.8M413.8 773.8L438.3 788.6" /><path class="n" d="M373.5 860.4V822.8L441.8 787.8" /><path class="n" d="M327.1 762.4V817.5L321.9 817.5M327.1 817.5L329 838M321.9 774.6L327.1 772" /><path class="h" d="M307 824.5L315 828.5V845.5M315 828.5L327.1 822.5" /><path class="h" d="M307 757.1L314.9 761V778.1" /><path class="n" d="M319.8 764.4a2 2.4 0 1 0 1.2 4.4" /><path class="n" d="M319.8 830.9a2 2.4 0 1 0 1.2 4.4" /><path class="p" d="M385.8 826.4 L391 823.6 L391 855 L385.8 857.8Z" style="stroke-width:1.2"/><path class="p" d="M394.5 821.1 L399.8 818.3 L399.8 849.7 L394.5 852.5Z" style="stroke-width:1.2"/><path class="p" d="M402.4 815.8 L407.6 813 L407.6 846.2 L402.4 849Z" style="stroke-width:1.2"/><path class="h" d="M391 834H395M391 838H395M391 842H395M400 831H402.4M400 835H402.4M386 854.5L391 852M394.5 849L399.8 846.5" /><circle class="k" cx="420.8" cy="810.5" r="1.1"/><circle class="k" cx="432.1" cy="804.4" r="1.1"/><circle class="k" cx="420.8" cy="823.6" r="1.1"/><circle class="k" cx="432.1" cy="815.8" r="1.1"/><circle class="n" cx="437.4" cy="799.1" r="1.6"/></g>
<g><path class="p" d="M218.2 836 L221.5 831.1 L266.6 804.7 L273.8 803 L287 809.6 L288.6 812.4 L288.6 839.3 L285.9 842.6 L238 870.7 L232 871.8 L217.7 864.1Z" /><path class="n" d="M218.2 836L232.5 843.7L232 871.8M232.5 843.7L238 841.5L284.7 816.2L288.6 812.4M238 841.5V870.7" /><path class="n" d="M221.5 831.6L236.9 840.4L284.2 813.5M267.2 805.2V826.1L236.9 840.4M267.2 826.1L284 816.6M273.8 803L271 807L284.5 813.8" /><path class="h" d="M234.2 848V866M236 848.5V865M286.3 818V838" /><path class="n" d="M224 829.5L238 821.5" style="stroke-width:2"/></g>
<g><path d="M349.2 920C352.8 918 363.2 911.6 370.8 908C378.4 904.4 385.6 900.8 394.8 898.4C404 896 416.4 896 426 893.6C435.6 891.2 444.8 887.6 452.4 884C460 880.4 468.4 874 471.6 872" fill="none" stroke="#222" stroke-width="4.4" stroke-linecap="butt"/><path d="M349.2 920C352.8 918 363.2 911.6 370.8 908C378.4 904.4 385.6 900.8 394.8 898.4C404 896 416.4 896 426 893.6C435.6 891.2 444.8 887.6 452.4 884C460 880.4 468.4 874 471.6 872" fill="none" stroke="#fff" stroke-width="1.6" stroke-linecap="butt"/><path class="n" d="M426.6 891.2L427.8 896.2" style="stroke-width:1.7"/><path class="p" d="M324 921.2 L330 918.8 L333.6 922.4 L330 927.2 L324.7 925.3Z" /><path class="h" d="M324 921.2L328.8 923L333.6 922.4M328.8 923L327.4 926.2" /><path class="p" d="M333.6 924.4 L342 919.8 L349.2 922.4 L357.6 934.4 L355.2 939.2 L346.8 939.2 L334.8 930.8Z" /><path class="h" d="M333.6 924.4L342 928.5L349.2 922.4M342 928.5L350 937.5L355.2 939.2M350 937.5L352 933" /><path class="n" d="M339 921.5L344 916.5L348 918.5" /><path class="p" d="M472.8 860C474 857.4 479.2 855.8 481.2 856.4C483.2 857 484.8 861 484.8 863.6C484.8 866.2 483 870.6 481.2 872C479.4 873.4 475.4 874 474 872C472.6 870 471.6 862.6 472.8 860Z" /><path class="h" d="M474.5 861Q478 866 475.5 872M478 859L481 867" /><path class="p" d="M486 864.8C487 863.2 490.4 861 492 861.2C493.6 861.4 495.8 864.2 495.6 866C495.4 867.8 492.4 871.2 490.8 872C489.2 872.8 486.8 872 486 870.8C485.2 869.6 485 866.4 486 864.8Z" /><path class="h" d="M488 864Q490 867.5 488.5 871" /></g>
<g transform="translate(130.2 246)"><path class="n" d="M338 689C339.2 689.8 342.6 692.4 345 694C347.4 695.6 351.3 698 352.6 698.8" style="stroke-width:1.1"/><path class="n" d="M339.5 688C340.7 688.8 344.1 691.4 346.5 693C348.9 694.6 352.4 697 353.6 697.8" style="stroke-width:1.1"/><path class="n" d="M352.6 698.8C354.2 698 359.1 695.2 362 694C364.9 692.8 368.7 691.9 370 691.5" style="stroke-width:1.1"/><path class="n" d="M353 700.3C354.6 699.5 359.6 697 362.5 695.8C365.4 694.6 369.2 693.6 370.5 693.2" style="stroke-width:1.1"/><path class="n" d="M352.6 699.8C353.2 700.8 354.6 704.1 356 706C357.4 707.9 360.2 710.2 361 711" style="stroke-width:1.1"/><path class="n" d="M354.2 699.5C354.8 700.5 356.2 703.8 357.6 705.5C359 707.2 361.7 709.2 362.5 710" style="stroke-width:1.1"/><path d="M222.1 716.5C225.2 715 232.8 710 241 707.8C249.2 705.6 262.6 703.8 271.6 703.3C280.6 702.8 286.6 704.6 295 705.1C303.4 705.6 314.2 706.5 322 706C329.8 705.5 336.7 703.6 341.8 702.4C346.9 701.2 350.8 699.4 352.6 698.8" fill="none" stroke="#222" stroke-width="4" stroke-linecap="butt"/><path d="M222.1 716.5C225.2 715 232.8 710 241 707.8C249.2 705.6 262.6 703.8 271.6 703.3C280.6 702.8 286.6 704.6 295 705.1C303.4 705.6 314.2 706.5 322 706C329.8 705.5 336.7 703.6 341.8 702.4C346.9 701.2 350.8 699.4 352.6 698.8" fill="none" stroke="#fff" stroke-width="1.3" stroke-linecap="butt"/><path class="n" d="M271.2 701L272.2 706" style="stroke-width:1.7"/><path class="p" d="M209.5 717.7 L215.8 713.2 L222.1 715 L220.3 720.4 L213.1 723.1Z" /><path class="h" d="M209.5 717.7L215.8 717.6L222.1 715M215.8 717.6L216.7 721.8" /><path class="p" d="M332.8 684.4 L338.2 682.6 L343.6 687.1 L339.1 690.7 L333.7 688.9Z" /><path class="h" d="M332.8 684.4L338.2 687L343.6 687.1M338.2 687L336.4 689.8" /><path class="p" d="M367.9 688.9 L375.1 685.3 L379.6 688.9 L377.8 693.4 L370.6 695.2Z" /><path class="h" d="M367.9 688.9L373.8 690.1L379.6 688.9M373.8 690.1L374.2 694.3" /><path class="p" d="M358 710.5 L364.3 706.9 L369.7 711.4 L366.1 717.7 L359.8 715.9Z" /><path class="h" d="M358 710.5L363.9 712.2L369.7 711.4M363.9 712.2L363 716.8" /></g>
<g><path d="M517.3 865C520.4 863.5 527.5 858.5 536.2 856.2C545 853.9 560 851.5 569.8 851C579.6 850.5 585.9 852.7 595 853C604.1 853.3 615.3 854.2 624.4 853C633.5 851.8 642.6 848 649.6 845.7C656.6 843.4 663.6 840.5 666.4 839.4" fill="none" stroke="#222" stroke-width="4" stroke-linecap="butt"/><path d="M517.3 865C520.4 863.5 527.5 858.5 536.2 856.2C545 853.9 560 851.5 569.8 851C579.6 850.5 585.9 852.7 595 853C604.1 853.3 615.3 854.2 624.4 853C633.5 851.8 642.6 848 649.6 845.7C656.6 843.4 663.6 840.5 666.4 839.4" fill="none" stroke="#fff" stroke-width="1.3" stroke-linecap="butt"/><path class="n" d="M569.4 848.8L570.4 853.8" style="stroke-width:1.7"/><path class="p" d="M506.8 865.6 L512 862.1 L517.3 864.2 L515.6 869.2 L509.3 871.3Z" /><path class="h" d="M506.8 865.6L512 866.1L517.3 864.2M512 866.1L512.5 870.2" /><path class="p" d="M666.4 837.3 L672.7 833.1 L677.9 836.2 L675.8 841.5 L669.5 843.6Z" /><path class="h" d="M666.4 837.3L672.1 838L677.9 836.2M672.1 838L672.6 842.5" /></g>
<g transform="translate(2.1 43)"><path d="M517.3 865C520.4 863.5 527.5 858.5 536.2 856.2C545 853.9 560 851.5 569.8 851C579.6 850.5 585.9 852.7 595 853C604.1 853.3 615.3 854.2 624.4 853C633.5 851.8 642.6 848 649.6 845.7C656.6 843.4 663.6 840.5 666.4 839.4" fill="none" stroke="#222" stroke-width="4" stroke-linecap="butt"/><path d="M517.3 865C520.4 863.5 527.5 858.5 536.2 856.2C545 853.9 560 851.5 569.8 851C579.6 850.5 585.9 852.7 595 853C604.1 853.3 615.3 854.2 624.4 853C633.5 851.8 642.6 848 649.6 845.7C656.6 843.4 663.6 840.5 666.4 839.4" fill="none" stroke="#fff" stroke-width="1.3" stroke-linecap="butt"/><path class="n" d="M569.4 848.8L570.4 853.8" style="stroke-width:1.7"/><path class="p" d="M506.8 865.6 L512 862.1 L517.3 864.2 L515.6 869.2 L509.3 871.3Z" /><path class="h" d="M506.8 865.6L512 866.1L517.3 864.2M512 866.1L512.5 870.2" /><path class="p" d="M666.4 837.3 L672.7 833.1 L677.9 836.2 L675.8 841.5 L669.5 843.6Z" /><path class="h" d="M666.4 837.3L672.1 838L677.9 836.2M672.1 838L672.6 842.5" /></g>
<g><path class="p" d="M697.1 846 L700.9 842.2 L794 789 L798.8 789 L800.7 791.9 L800.7 802.3 L805.4 807.1 L806.4 906.8 L804.5 910.6 L730.4 949.6 L723.7 948.6 L716.1 944.8 L700.9 945.8 L697.1 941 L698.1 935.3 L703.8 925.8 L703.8 861.2 L698.1 856.5Z" /><path class="n" d="M704.7 847.9L720.9 847.9Q727.5 851 728.5 859.3L729.4 947.7" /><path class="h" d="M710.4 851.7V941M713.5 852V942.5M703.8 861.2L710.4 858M703.8 925.8L710.4 929" /><path class="h" d="M699.5 853L703 851.5M702 849V854.5M699.5 940L703 938M702 936V942" /><path class="n" d="M740.8 846L794 815.6" /><path class="n" d="M768.4 839V855M765.5 842.5L771.5 840.5M764 852.5Q766.5 858.5 772 853.5M766 846.5L770.5 845" /><path class="n" d="M741.5 912V934.5L744.8 932.8V910.3ZM747.5 908.8V931.2L750.8 929.5V907.2ZM753.5 905.5V927.5M753.5 905.5L763 900.2M753.5 914L762 909.5M753.5 921L760 917.5M756.5 904V926" /><path class="n" d="M751 938.5L754.5 941L757 937" /></g>
<g><path class="p" d="M566.4 144Q566.4 142 568 141L585 132.4L611.4 123.4L616.8 127.6V180.4L581.5 202Q580.2 202.8 578.8 202L567.5 195.6Q566.4 195 566.4 193.5Z" /><path class="n" d="M568 141.5L577.8 148M585 145L611.4 129.4M579.6 155.2V198.4" /><path class="p" d="M585.6 124.5Q585.6 122.6 587.2 121.8L598 115Q599.6 114 601.2 114.8L605.5 117Q607 118 607 119.8L607.2 130L595.8 137.2L586.2 133.6Z" /><path class="n" d="M585.6 123L595.5 127.2L595.8 137.2M595.5 127.2L599 125V134" /><path class="k" d="M599.5 119.5 L605 117 L606.3 118.5 L606.5 129 L600 133Z" style="fill:#333"/><path class="h" d="M601 121.5L604.5 120M601 126L605 124" style="stroke:#ddd"/><path class="n" d="M597 138L608 131.5" style="stroke-width:2;stroke-dasharray:.7 .7"/></g>
<g><path class="p" d="M670.2 109C670.9 103.7 672.5 102.7 674.2 101C675.9 99.3 678.3 98.7 680.6 99.1C682.9 99.5 685.8 101 687.8 103.4C689.8 105.9 691.5 109.7 692.6 113.8C693.7 117.9 694.3 123.4 694.2 128.2C694.1 133 693.3 138.9 691.8 142.6C690.3 146.3 687.5 149.1 685.4 150.6C683.3 152.1 681.1 152.2 679 151.4C676.9 150.6 674.1 148.9 672.6 145.8C671.1 142.7 670.6 139.1 670.2 133C669.8 126.9 669.5 114.3 670.2 109Z" style="stroke-width:1.8"/><path class="n" d="M672.6 109C673.2 104.1 674.5 104.6 675.8 103.4C677.1 102.2 679 101.4 680.6 101.8C682.2 102.2 684.3 103.3 685.4 105.8C686.5 108.3 686.9 110.3 687 117C687.1 123.7 687.4 140.6 686.2 145.8C685 151 681.8 148.5 679.8 148.2C677.8 147.9 675.5 146.7 674.2 144.2C673 141.7 672.6 138.9 672.3 133C672 127.1 672 113.9 672.6 109Z" /><path class="n" d="M675 115.4 L682.2 118.6 L682.2 147 L675 141Z" /><circle class="k" cx="677.4" cy="109" r="2.4"/><circle class="n" cx="678.2" cy="119.4" r="3" style="stroke-width:1.6"/><path class="h" d="M677 117.5L679.5 121" /></g>
<g><rect class="p" x="624.8" y="189" width="87.8" height="44" rx="5.5" ry="5.5" style="stroke-width:1.6"/><path class="n" d="M639 196.5C640 196.1 643 194.1 645 193.8C647 193.5 649.4 193.6 651 194.5C652.6 195.4 654 197 654.5 199C655 201 654.6 204.3 654 206.6C653.4 208.8 651.2 210.7 651 212.5C650.8 214.3 653.3 216.1 653 217.5C652.7 218.9 649.5 219.7 649 221C648.5 222.3 650.5 225 649.8 225.4C649 225.8 645.4 223.8 644.5 223.5" /><path class="n" d="M632.6 206.6V203.6A4.8 4.8 0 0 1 642.2 203.6V206.6" style="stroke-width:1.6"/><rect class="p" x="629.4" y="206.6" width="16" height="14.4" rx="1" style="stroke-width:1.5"/><circle class="k" cx="637.4" cy="211.8" r="1.7"/><path class="n" d="M637.4 212V217.4" style="stroke-width:1.6"/><path class="h" d="M635.4 209L637.4 207L639.4 209" /><text x="658" y="203.5" textLength="34.5" font-weight="bold" font-style="italic" font-size="9" fill="#111" stroke="#111" stroke-width="1.15" lengthAdjust="spacingAndGlyphs">SUZUKI</text><text x="658" y="213.1" textLength="46.5" font-weight="bold" font-style="italic" font-size="9" fill="#111" stroke="#111" stroke-width="1.15" lengthAdjust="spacingAndGlyphs">SECURITY</text><text x="658" y="222.7" textLength="37" font-weight="bold" font-style="italic" font-size="9" fill="#111" stroke="#111" stroke-width="1.15" lengthAdjust="spacingAndGlyphs">SYSTEM</text></g>

</svg>
</body></html>
